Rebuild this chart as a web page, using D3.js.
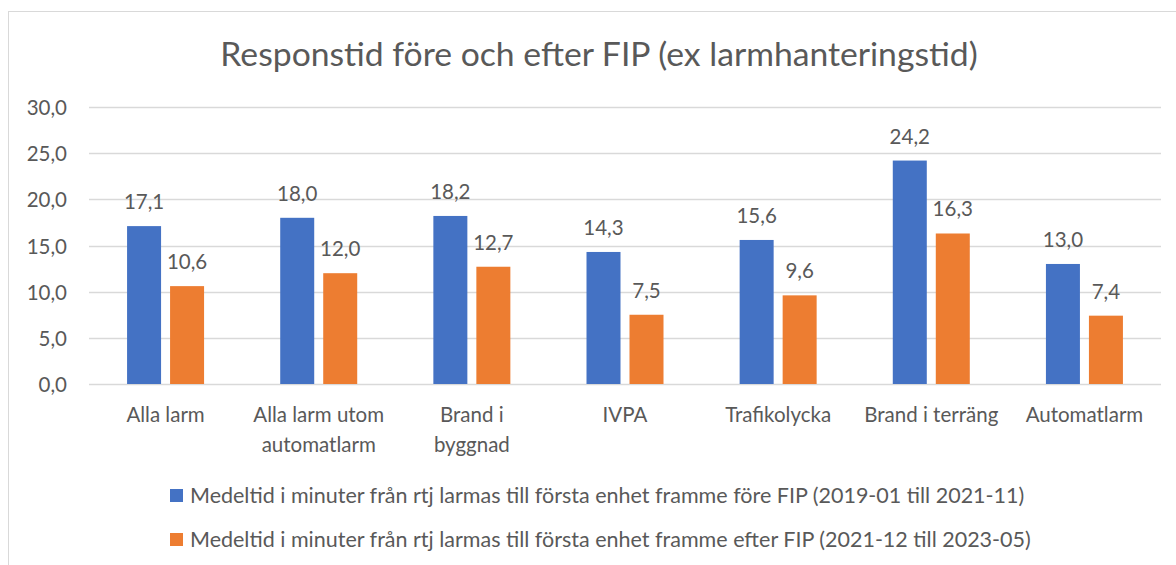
<!DOCTYPE html>
<html>
<head>
<meta charset="utf-8">
<script src="https://cdn.jsdelivr.net/npm/d3@7"></script>
<style>
  body { margin: 0; background: #fff; }
  svg text { font-family: Lato, "Open Sans", sans-serif; fill: #595959; }
</style>
</head>
<body>
<div id="chart"></div>
<script>
// Responstid före och efter FIP

const categories = [
  ['Alla larm'],
  ['Alla larm utom', 'automatlarm'],
  ['Brand i', 'byggnad'],
  ['IVPA'],
  ['Trafikolycka'],
  ['Brand i terräng'],
  ['Automatlarm']
];
const before = [17.1, 18.0, 18.2, 14.3, 15.6, 24.2, 13.0];
const after = [10.6, 12.0, 12.7, 7.5, 9.6, 16.3, 7.4];
const yTicks = [0, 5, 10, 15, 20, 25, 30];
const seriesNames = [
  'Medeltid i minuter från rtj larmas till första enhet framme före FIP (2019-01 till 2021-11)',
  'Medeltid i minuter från rtj larmas till första enhet framme efter FIP (2021-12 till 2023-05)'
];
const colors = ['#4472C4', '#ED7D31'];

const width = 1176;
const height = 565;
const plot = { left: 89, right: 1161, top: 107, bottom: 384 };

const svg = d3.select('#chart')
  .append('svg')
  .attr('width', width)
  .attr('height', height);

// chart frame
svg.append('rect')
  .attr('x', 8.5).attr('y', 11.5)
  .attr('width', 1200).attr('height', 600)
  .attr('fill', 'none')
  .attr('stroke', '#D9D9D9');

svg.append('text')
  .attr('x', 599).attr('y', 66)
  .attr('text-anchor', 'middle')
  .attr('font-size', 33.7)
  .text('Responstid före och efter FIP (ex larmhanteringstid)');

const x = d3.scaleBand()
  .domain(d3.range(categories.length))
  .range([plot.left, plot.right]);

const y = d3.scaleLinear()
  .domain([0, 30])
  .range([plot.bottom, plot.top]);

const locale = d3.formatLocale({ decimal: ',', thousands: ' ', grouping: [3], currency: ['', ' kr'] });
const fmt = locale.format('.1f');

// gridlines
svg.selectAll('.grid')
  .data(yTicks)
  .join('line')
  .attr('class', 'grid')
  .attr('x1', plot.left).attr('x2', plot.right)
  .attr('y1', d => Math.round(y(d)) + 0.5)
  .attr('y2', d => Math.round(y(d)) + 0.5)
  .attr('stroke', '#D9D9D9')
  .attr('stroke-width', 1.3);

// y axis labels
svg.selectAll('.ytick')
  .data(yTicks)
  .join('text')
  .attr('class', 'ytick')
  .attr('x', 67)
  .attr('y', d => y(d) + 8)
  .attr('text-anchor', 'end')
  .attr('font-size', 20.5)
  .text(d => fmt(d));

const barW = 34;
const gap = 9;
const series = [before, after];

series.forEach((values, s) => {
  const offset = s === 0 ? -(barW + gap / 2) : gap / 2;
  svg.selectAll('.bar' + s)
    .data(values)
    .join('rect')
    .attr('class', 'bar' + s)
    .attr('x', (d, i) => x(i) + x.bandwidth() / 2 + offset)
    .attr('y', d => y(d))
    .attr('width', barW)
    .attr('height', d => y(0) - y(d))
    .attr('fill', colors[s]);

  svg.selectAll('.label' + s)
    .data(values)
    .join('text')
    .attr('class', 'label' + s)
    .attr('x', (d, i) => x(i) + x.bandwidth() / 2 + offset + barW / 2)
    .attr('y', d => y(d) - 17)
    .attr('text-anchor', 'middle')
    .attr('font-size', 20.5)
    .text(d => fmt(d));
});

// category labels
const catText = svg.selectAll('.cat')
  .data(categories)
  .join('text')
  .attr('class', 'cat')
  .attr('x', (d, i) => x(i) + x.bandwidth() / 2)
  .attr('y', 422)
  .attr('text-anchor', 'middle')
  .attr('font-size', 20.5);

catText.selectAll('tspan')
  .data(d => d)
  .join('tspan')
  .attr('x', function () { return d3.select(this.parentNode).attr('x'); })
  .attr('dy', (d, i) => i === 0 ? 0 : 29.5)
  .text(d => d);

// legend
const legend = svg.selectAll('.legend')
  .data(seriesNames)
  .join('g')
  .attr('class', 'legend')
  .attr('transform', (d, i) => `translate(170,${503 + i * 44})`);

legend.append('rect')
  .attr('x', 0).attr('y', -14)
  .attr('width', 13).attr('height', 13)
  .attr('fill', (d, i) => colors[i]);

legend.append('text')
  .attr('x', 20)
  .attr('y', 0)
  .attr('font-size', 21.5)
  .text(d => d);
</script>
</body>
</html>
